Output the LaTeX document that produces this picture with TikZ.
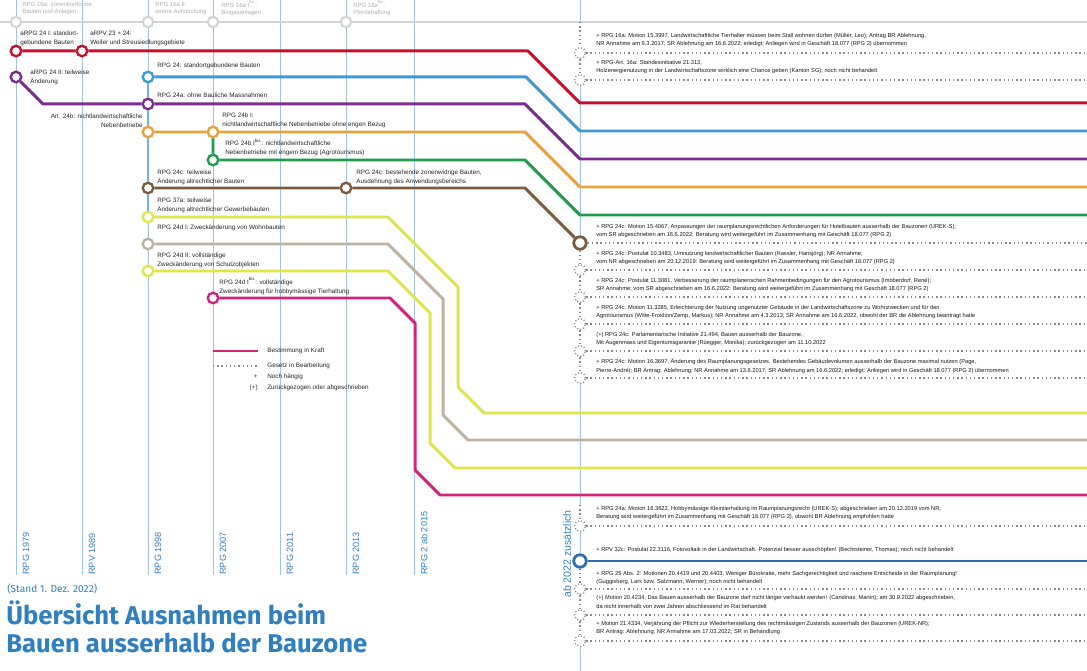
\documentclass[tikz,border=0pt]{standalone}
\usepackage{fontspec}
\setmainfont{Liberation Sans}
\newfontfamily\titlefont{Fira Sans}
\definecolor{tl}{HTML}{A3C4E0}
\definecolor{ctl}{HTML}{3A7FBF}
\definecolor{cred}{HTML}{C8102E}
\definecolor{cblue}{HTML}{3D9AD1}
\definecolor{cpurple}{HTML}{7B2D8E}
\definecolor{corange}{HTML}{E9A23B}
\definecolor{cgreen}{HTML}{1E9B4B}
\definecolor{cbrown}{HTML}{7B5B3E}
\definecolor{cyellow}{HTML}{E2E546}
\definecolor{cbeige}{HTML}{BDB3A3}
\definecolor{cmag}{HTML}{D4237A}
\definecolor{ctitle}{HTML}{3080C0}
\definecolor{cdark}{HTML}{2C6FAE}
\definecolor{hdr}{HTML}{D4D4D4}
\definecolor{hdrt}{HTML}{B0B0B0}
\definecolor{dotc}{HTML}{8A8A8A}
\begin{document}
\begin{tikzpicture}[x=0.02cm,y=-0.02cm,
  tline/.style={draw=tl,line width=0.55pt},
  mline/.style={line width=1.7pt,line join=round},
  stn/.style={circle,draw,fill=white,line width=1.35pt,minimum size=0.21cm,inner sep=0pt},
  bigstn/.style={circle,draw,fill=white,line width=1.6pt,minimum size=0.25cm,inner sep=0pt},
  hstn/.style={circle,draw=hdr,fill=white,line width=1.2pt,minimum size=0.21cm,inner sep=0pt},
  dstn/.style={circle,draw=dotc,dash pattern=on 0.7pt off 1.1pt,line width=0.7pt,fill=white,minimum size=0.22cm,inner sep=0pt},
  dline/.style={draw=dotc,line width=0.8pt,dash pattern=on 0.8pt off 1.6pt},
  lab/.style={font=\fontsize{3.6}{5.1}\selectfont,anchor=west,align=left,inner sep=0pt,text=black!85},
  rlab/.style={lab,anchor=east,align=right},
  rtxt/.style={font=\fontsize{3.25}{4.8}\selectfont,anchor=west,align=left,inner sep=0pt,text=black!90},
  hlab/.style={font=\fontsize{3.4}{4.3}\selectfont,anchor=west,align=left,inner sep=0pt,text=hdrt},
  ylab/.style={font=\fontsize{5.2}{6}\selectfont,rotate=90,anchor=west,inner sep=0pt,text=ctl},
]
\useasboundingbox (0,0) rectangle (1087,671);
\fill[white] (0,0) rectangle (1087,671);
\coordinate (R) at (1087,0);

% timelines
\foreach \x in {16,82,148,213,280,346,414} \draw[tline] (\x,0) -- (\x,575);

% header
\draw[draw=hdr,line width=1.1pt] (0,22) -- (1087,22);
\node[hstn] (h1) at (16,22) {};
\node[hstn] (h2) at (148,22) {};
\node[hstn] (h3) at (213,22) {};
\node[hstn] (h4) at (346,22) {};
\node[hlab] (hl1) at (22,8.5) {RPG 16a: zonenkonforme\\Bauten und Anlagen};
\node[hlab] (hl2) at (155,8.5) {RPG 16a II:\\innere Aufstockung};
\node[hlab] (hl3) at (221,8.5) {RPG 16a I\textsuperscript{bis}:\\Biogasanlagen};
\node[hlab] (hl4) at (353,8.5) {RPG 16a\textsuperscript{bis}:\\Pferdehaltung};

% spine x=580
\coordinate (sp0) at (580,0);
\coordinate (sp1) at (580,22);
\coordinate (sp2) at (580,505);
\coordinate (sp3) at (580,671);
\node[dstn] (d1) at (580,53) {};
\node[dstn] (d2) at (580,80) {};
\node[dstn] (d3) at (580,270) {};
\node[dstn] (d4) at (580,297) {};
\node[dstn] (d5) at (580,324) {};
\node[dstn] (d6) at (580,351) {};
\node[dstn] (d7) at (580,378) {};
\node[dstn] (d8) at (580,526) {};
\node[dstn] (d9) at (580,589) {};
\node[dstn] (d10) at (580,615) {};
\node[dstn] (d11) at (580,641) {};
\draw[tline] (sp0) -- (sp1);
\draw[dline] (sp1) -- (d1) -- (d2);
\draw[dline] (d3) -- (d4) -- (d5) -- (d6) -- (d7);
\draw[tline] (d7) -- (sp2);
\draw[dline] (sp2) -- (d8);
\draw[dline] (d9) -- (d10) -- (d11);
\draw[tline] (d11) -- (sp3);
\foreach \d in {d1,d2,d3,d4,d5,d6,d7,d8,d9,d10,d11} \draw[dline] (\d.east) -- (\d -| R);

% stations
\node[stn,draw=cred] (r1) at (16,51) {};
\node[stn,draw=cred] (r2) at (82,51) {};
\node[stn,draw=cpurple] (p1) at (16,77) {};
\node[stn,draw=cblue] (b1) at (148,77) {};
\node[stn,draw=cpurple] (p2) at (148,104) {};
\node[stn,draw=corange] (o1) at (148,132) {};
\node[stn,draw=corange] (o2) at (213,132) {};
\node[stn,draw=cgreen] (g1) at (213,160) {};
\node[stn,draw=cbrown] (br1) at (148,188) {};
\node[stn,draw=cbrown] (br2) at (346,188) {};
\node[bigstn,draw=cbrown] (br3) at (580,243) {};
\node[stn,draw=cyellow] (y1) at (148,217) {};
\node[stn,draw=cbeige] (be1) at (148,244) {};
\node[stn,draw=cyellow] (y2) at (148,271) {};
\node[stn,draw=cmag] (m1) at (213,298) {};
\node[bigstn,draw=cdark] (bl) at (580,561) {};

% spine pieces touching stations
\draw[tline] (d2) -- (br3);
\draw[dline] (br3) -- (d3);
\draw[tline] (d8) -- (bl);
\draw[dline] (bl) -- (d9);
\draw[dline] (br3) -- (br3 -| R);

% bend coordinates
\coordinate (rB1) at (528,51); \coordinate (rB2) at (580,103);
\coordinate (bB1) at (526,77); \coordinate (bB2) at (580,131);
\coordinate (pk) at (43,104); \coordinate (pB1) at (525,104); \coordinate (pB2) at (580,159);
\coordinate (oB1) at (525,132); \coordinate (oB2) at (580,187);
\coordinate (gB1) at (525,160); \coordinate (gB2) at (580,215);
\coordinate (brB1) at (525,188);
\coordinate (yA) at (388,217); \coordinate (yB) at (458,287); \coordinate (yC) at (458,387); \coordinate (yD) at (484,413);
\coordinate (eA) at (388,244); \coordinate (eB) at (443,299); \coordinate (eC) at (443,415); \coordinate (eD) at (468,440);
\coordinate (zA) at (388,271); \coordinate (zB) at (430,313); \coordinate (zC) at (430,443); \coordinate (zD) at (455,468);
\coordinate (mA) at (390,298); \coordinate (mB) at (415,323); \coordinate (mC) at (415,470); \coordinate (mD) at (440,495);

% lines
\draw[cblue!75,line width=1.1pt] (b1) -- (p2) -- (o1) -- (br1) -- (y1);
\draw[mline,cred] (r1) -- (r2) -- (rB1) -- (rB2) -- (rB2 -| R);
\draw[mline,cblue] (b1) -- (bB1) -- (bB2) -- (bB2 -| R);
\draw[mline,cpurple] (p1) -- (pk) -- (p2) -- (pB1) -- (pB2) -- (pB2 -| R);
\draw[mline,corange] (o1) -- (o2) -- (oB1) -- (oB2) -- (oB2 -| R);
\draw[mline,cgreen] (o2) -- (g1) -- (gB1) -- (gB2) -- (gB2 -| R);
\draw[mline,cbrown] (br1) -- (br2) -- (brB1) -- (br3);
\draw[mline,cyellow] (y1) -- (yA) -- (yB) -- (yC) -- (yD) -- (yD -| R);
\draw[mline,cbeige] (be1) -- (eA) -- (eB) -- (eC) -- (eD) -- (eD -| R);
\draw[mline,cyellow] (y2) -- (zA) -- (zB) -- (zC) -- (zD) -- (zD -| R);
\draw[mline,cmag] (m1) -- (mA) -- (mB) -- (mC) -- (mD) -- (mD -| R);
\draw[cdark,line width=1.3pt] (bl) -- (bl -| R);

% left labels
\node[lab] (l1) at (20,38) {aRPG 24 I: standort-\\gebundene Bauten};
\node[lab] (l2) at (90,38) {aRPV 23 + 24:\\Weiler und Streusiedlungsgebiete};
\node[lab] (l3) at (30,77) {aRPG 24 II: teilweise\\Änderung};
\node[lab] (l4) at (157,66) {RPG 24: standortgebundene Bauten};
\node[lab] (l5) at (157,95) {RPG 24a: ohne Bauliche Massnahmen};
\node[rlab] (l6) at (143,120.5) {Art. 24b: nichtlandwirtschaftliche\\Nebenbetriebe};
\node[lab] (l7) at (222,120.5) {RPG 24b I:\\nichtlandwirtschaftliche Nebenbetriebe ohne engen Bezug};
\node[lab] (l8) at (225,147.5) {RPG 24b I\textsuperscript{bis}: nichtlandwirtschaftliche\\Nebenbetriebe mit engem Bezug (Agrotourismus)};
\node[lab] (l9) at (157,177) {RPG 24c: teilweise\\Änderung altrechtlicher Bauten};
\node[lab] (l10) at (356,177) {RPG 24c: bestehende zonenwidrige Bauten,\\Ausdehnung des Anwendungsbereichs};
\node[lab] (l11) at (157,205) {RPG 37a: teilweise\\Änderung altrechtlicher Gewerbebauten};
\node[lab] (l12) at (157,228) {RPG 24d I: Zweckänderung von Wohnbauten};
\node[lab] (l13) at (157,260.5) {RPG 24d II: vollständige\\Zweckänderung von Schutzobjekten};
\node[lab] (l14) at (219,286) {RPG 24d I\textsuperscript{bis}: vollständige\\Zweckänderung für hobbymässige Tierhaltung};

% legend
\coordinate (lgA) at (213,351); \coordinate (lgB) at (258,351);
\coordinate (lgC) at (213,366); \coordinate (lgD) at (258,366);
\draw[mline,cmag] (lgA) -- (lgB);
\draw[dline] (lgC) -- (lgD);
\node[lab] (lt1) at (267,351) {Bestimmung in Kraft};
\node[lab] (lt2) at (267,366) {Gesetz in Bearbeitung};
\node[lab,anchor=east] (ls3) at (258,377) {+};
\node[lab] (lt3) at (267,377) {Noch hängig};
\node[lab,anchor=east] (ls4) at (258,388) {(+)};
\node[lab] (lt4) at (267,388) {Zurückgezogen oder abgeschrieben};

% bottom vertical labels
\node[ylab] (v1) at (26,575) {RPG 1979};
\node[ylab] (v2) at (92,575) {RPV 1989};
\node[ylab] (v3) at (158,575) {RPG 1998};
\node[ylab] (v4) at (223,575) {RPG 2007};
\node[ylab] (v5) at (290,575) {RPG 2011};
\node[ylab] (v6) at (356,575) {RPG 2013};
\node[ylab] (v7) at (424,575) {RPG 2 ab 2015};
\node[ylab,font=\fontsize{6}{7}\selectfont] (v8) at (567,598) {ab 2022 zusätzlich};

% right texts
\node[rtxt] (t1) at (596,40) {+ RPG 16a: Motion 15.3997, Landwirtschaftliche Tierhalter müssen beim Stall wohnen dürfen (Müller, Leo); Antrag BR Ablehnung,\\NR Annahme am 9.3.2017; SR Ablehnung am 16.6.2022; erledigt; Anliegen wird in Geschäft 18.077 (RPG 2) übernommen};
\node[rtxt] (t2) at (596,67) {+ RPG-Art. 16a: Standesinitiative 21.313,\\Holzenergienutzung in der Landwirtschaftszone wirklich eine Chance geben (Kanton SG); noch nicht behandelt};
\node[rtxt] (t3) at (596,231) {+ RPG 24c: Motion 15.4067, Anpassungen der raumplanungsrechtlichen Anforderungen für Hotelbauten ausserhalb der Bauzonen (UREK-S);\\vom SR abgeschrieben am 16.6.2022: Beratung wird weitergeführt im Zusammenhang mit Geschäft 18.077 (RPG 2)};
\node[rtxt] (t4) at (596,258) {+ RPG 24c: Postulat 10.3483, Umnutzung landwirtschaftlicher Bauten (Hassler, Hansjörg); NR Annahme;\\vom NR abgeschrieben am 20.12.2019: Beratung wird weitergeführt im Zusammenhang mit Geschäft 18.077 (RPG 2)};
\node[rtxt] (t5) at (596,285) {+ RPG 24c: Postulat 11.3081, Verbesserung der raumplanerischen Rahmenbedingungen für den Agrotourismus (Imoberdorf, René);\\SR Annahme; vom SR abgeschrieben am 16.6.2022: Beratung wird weitergeführt im Zusammenhang mit Geschäft 18.077 (RPG 2)};
\node[rtxt] (t6) at (596,312) {+ RPG 24c: Motion 11.3285, Erleichterung der Nutzung ungenutzter Gebäude in der Landwirtschaftszone zu Wohnzwecken und für den\\Agrotourismus (Witte-Froidion/Zemp, Markus); NR Annahme am 4.3.2013; SR Annahme am 16.6.2022, obwohl der BR die Ablehnung beantragt hatte};
\node[rtxt] (t7) at (596,339) {(+) RPG 24c: Parlamentarische Initiative 21.494, Bauen ausserhalb der Bauzone.\\Mit Augenmass und Eigentumsgarantie (Rüegger, Monika); zurückgezogen am 11.10.2022};
\node[rtxt] (t8) at (596,366) {+ RPG 24c: Motion 16.3697, Änderung des Raumplanungsgesetzes. Bestehendes Gebäudevolumen ausserhalb der Bauzone maximal nutzen (Page,\\Pierre-André); BR Antrag: Ablehnung; NR Annahme am 13.6.2017; SR Ablehnung am 16.6.2022; erledigt: Anliegen wird in Geschäft 18.077 (RPG 2) übernommen};
\node[rtxt] (t9) at (596,513) {+ RPG 24a: Motion 16.3622, Hobbymässige Kleintierhaltung im Raumplanungsrecht (UREK-S); abgeschrieben am 20.12.2019 vom NR;\\Beratung wird weitergeführt im Zusammenhang mit Geschäft 18.077 (RPG 2), obwohl BR Ablehnung empfohlen hatte};
\node[rtxt] (t10) at (596,550) {+ RPV 32c: Postulat 22.3116, Fotovoltaik in der Landwirtschaft. Potenzial besser ausschöpfen! (Bechtsteiner, Thomas); noch nicht behandelt};
\node[rtxt] (t11) at (596,578) {+ RPG 25 Abs. 2: Motionen 20.4419 und 20.4403, Weniger Bürokratie, mehr Sachgerechtigkeit und raschere Entscheide in der Raumplanung!\\(Guggisberg, Lars bzw. Salzmann, Werner); noch nicht behandelt};
\node[rtxt] (t12) at (596,602) {(+) Motion 20.4234, Das Bauen ausserhalb der Bauzone darf nicht länger verhaukt werden! (Candinas, Martin); am 30.9.2022 abgeschrieben,\\da nicht innerhalb von zwei Jahren abschliessend im Rat behandelt};
\node[rtxt] (t13) at (596,628) {+ Motion 21.4334, Verjährung der Pflicht zur Wiederherstellung des rechtmässigen Zustands ausserhalb der Bauzonen (UREK-NR);\\BR Antrag: Ablehnung; NR Annahme am 17.03.2022; SR in Behandlung};

% title
\node[anchor=west,inner sep=0pt,text=ctitle,font=\titlefont\fontsize{5.8}{6.8}\selectfont] (stand) at (7,589) {(Stand 1. Dez. 2022)};
\node[anchor=north west,inner sep=0pt,align=left,text=ctitle,font=\titlefont\bfseries\fontsize{14.6}{16.3}\selectfont] (title) at (6,600) {Übersicht Ausnahmen beim\\Bauen ausserhalb der Bauzone};
\end{tikzpicture}
\end{document}
